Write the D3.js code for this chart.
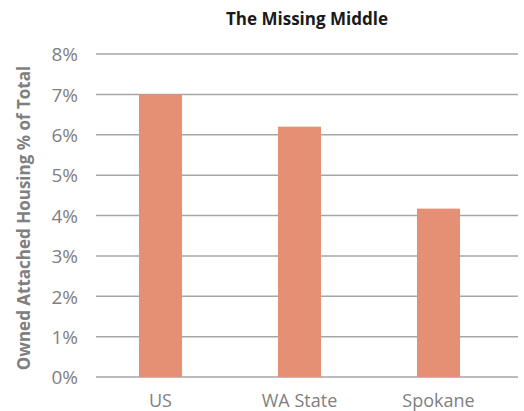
<!DOCTYPE html>
<html>
<head>
<meta charset="utf-8">
<script src="https://cdn.jsdelivr.net/npm/d3@7"></script>
<style>
  body { margin: 0; background: #fff; }
  svg text { font-family: "Open Sans", "Noto Sans", sans-serif; }
</style>
</head>
<body>
<svg id="chart"></svg>
<script>
const categories = ["US", "WA State", "Spokane"];
const values = [0.070, 0.062, 0.0417];
const yTicks = [0, 0.01, 0.02, 0.03, 0.04, 0.05, 0.06, 0.07, 0.08];

const size = { width: 524, height: 411 };
const plot = { left: 91, right: 508, top: 54, bottom: 377, gridLeft: 96, gridRight: 518 };

const svg = d3.select("#chart").attr("width", size.width).attr("height", size.height);

const xScale = d3.scaleBand().domain(categories).range([plot.left, plot.right]).paddingInner(0.69).paddingOuter(0.345);
const yScale = d3.scaleLinear().domain([0, 0.08]).range([plot.bottom, plot.top]);

// gridlines
svg.append("g").selectAll("line").data(yTicks).enter().append("line")
  .attr("x1", plot.gridLeft).attr("x2", plot.gridRight)
  .attr("y1", d => yScale(d)).attr("y2", d => yScale(d))
  .attr("stroke", "#a6a6a6").attr("stroke-width", 1.5);

// bars
svg.append("g").selectAll("rect").data(values).enter().append("rect")
  .attr("x", (d, i) => xScale(categories[i]))
  .attr("y", d => yScale(d))
  .attr("width", xScale.bandwidth())
  .attr("height", d => plot.bottom - yScale(d))
  .attr("fill", "#e58f75");

// y axis labels
const yAxis = d3.axisLeft(yScale).tickValues(yTicks).tickFormat(d3.format(".0%")).tickSize(0).tickPadding(0);
const yG = svg.append("g").attr("transform", "translate(78,0)").call(yAxis);
yG.select(".domain").remove();
yG.selectAll("text").attr("fill", "#808080").style("font-size", "19px").attr("dy", "0.36em");

// x axis labels
const xAxis = d3.axisBottom(xScale).tickSize(0).tickPadding(0);
const xG = svg.append("g").attr("transform", "translate(0,407)").call(xAxis);
xG.select(".domain").remove();
xG.selectAll("text").attr("fill", "#808080").style("font-size", "18px").attr("y", 0).attr("dy", 0);

// title
svg.append("text").attr("x", 307).attr("y", 25).attr("text-anchor", "middle")
  .style("font-size", "17px").style("font-weight", "bold").attr("fill", "#1a1a1a")
  .text("The Missing Middle");

// y title
svg.append("text").attr("transform", "translate(30,218) rotate(-90)").attr("text-anchor", "middle")
  .style("font-size", "17px").style("font-weight", "bold").attr("fill", "#808080")
  .text("Owned Attached Housing % of Total");
</script>
</body>
</html>
